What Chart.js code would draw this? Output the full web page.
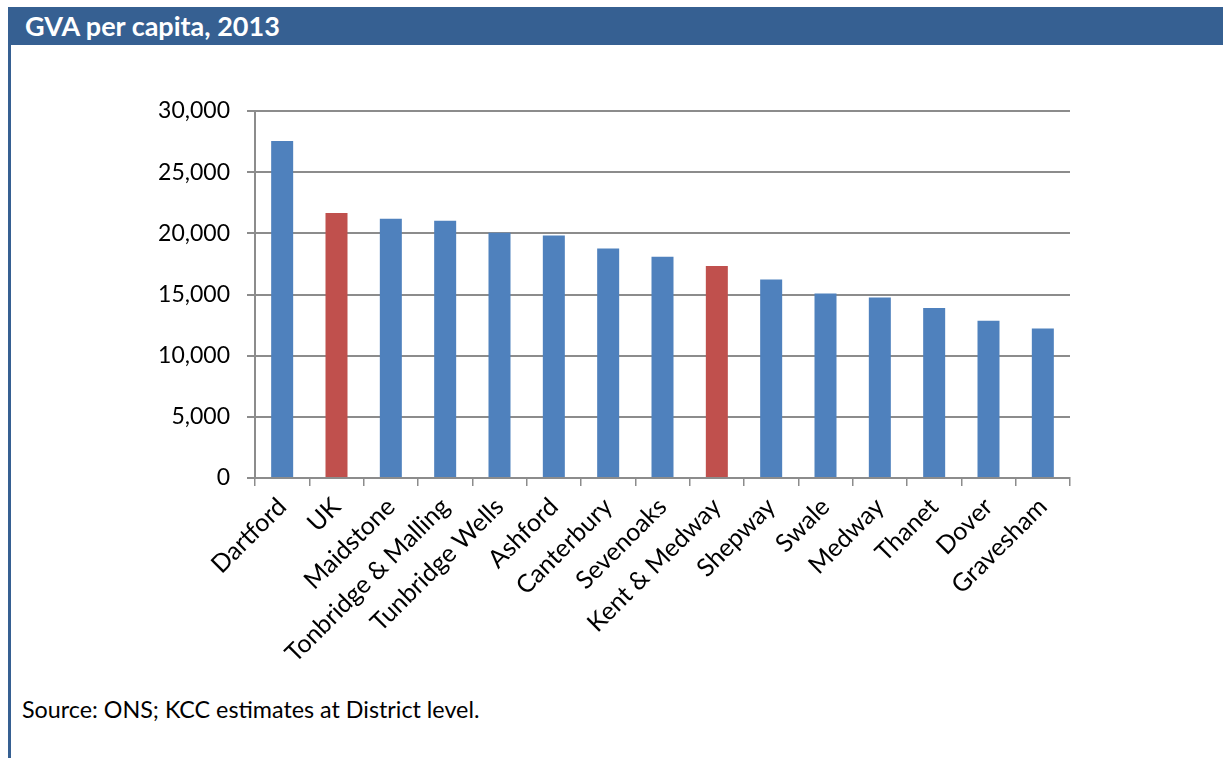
<!DOCTYPE html>
<html>
<head>
<meta charset="utf-8">
<script src="https://cdn.jsdelivr.net/npm/chart.js@4/dist/chart.umd.min.js"></script>
<style>
  body { margin: 0; background: #fff; width: 1223px; height: 758px; overflow: hidden; position: relative; font-family: Lato, sans-serif; }
  #header { position: absolute; left: 8px; right: 0; top: 7px; height: 38px; background: #366092; color: #fff;
            font-weight: bold; font-size: 27px; line-height: 38px; padding-left: 17px; box-sizing: border-box; }
  #leftline { position: absolute; left: 8px; top: 45px; width: 3px; bottom: 0; background: #366092; }
  #source { position: absolute; left: 22px; top: 695px; font-size: 23.3px; color: #000; }
  #wrap { position: absolute; left: 0; top: 0; width: 1223px; height: 758px; }
</style>
</head>
<body>
<div id="header">GVA per capita, 2013</div>
<div id="leftline"></div>
<div id="source">Source: ONS; KCC estimates at District level.</div>
<div id="wrap"><canvas id="gva-chart"></canvas></div>
<script>
var districts = ["Dartford", "UK", "Maidstone", "Tonbridge & Malling", "Tunbridge Wells", "Ashford",
  "Canterbury", "Sevenoaks", "Kent & Medway", "Shepway", "Swale", "Medway", "Thanet", "Dover", "Gravesham"];
var gvaValues = [27550, 21660, 21200, 21030, 20050, 19830, 18770, 18080, 17320, 16230, 15090, 14760, 13890, 12850, 12230];
var comparisonAreas = ["UK", "Kent & Medway"];
var yTicks = [0, 5000, 10000, 15000, 20000, 25000, 30000];

var blue = "#4F81BD";
var red = "#C0504D";
var barColours = districts.map(function (d) {
  return comparisonAreas.indexOf(d) >= 0 ? red : blue;
});

var gridGrey = "#8c8c8c";

new Chart(document.getElementById("gva-chart"), {
  type: 'bar',
  data: {
    labels: districts,
    datasets: [{
      label: "GVA per capita",
      data: gvaValues,
      backgroundColor: barColours,
      barPercentage: 0.405,
      categoryPercentage: 1.0
    }]
  },
  options: {
    responsive: true,
    maintainAspectRatio: false,
    animation: false,
    layout: { padding: { left: 0, right: 153, top: 111, bottom: 0 } },
    plugins: {
      legend: { display: false },
      title: { display: false },
      tooltip: { enabled: false }
    },
    scales: {
      x: {
        grid: { drawOnChartArea: false, drawTicks: true, tickLength: 8, color: gridGrey, lineWidth: 1.5, offset: true },
        border: { color: gridGrey, width: 2 },
        ticks: {
          color: "#000",
          font: { family: "Lato", size: 25 },
          minRotation: 45,
          maxRotation: 45,
          padding: 6,
          autoSkip: false
        },
        afterFit: function (scale) { scale.height = 280; }
      },
      y: {
        min: 0,
        max: 30000,
        afterBuildTicks: function (scale) {
          scale.ticks = yTicks.map(function (v) { return { value: v }; });
        },
        grid: { color: gridGrey, lineWidth: 2, tickLength: 8 },
        border: { color: gridGrey, width: 2 },
        ticks: {
          color: "#000",
          font: { family: "Lato", size: 23 },
          padding: 17,
          callback: function (v) { return v.toLocaleString("en-GB"); }
        },
        afterFit: function (scale) { scale.width = 255; }
      }
    }
  }
});
</script>
</body>
</html>
